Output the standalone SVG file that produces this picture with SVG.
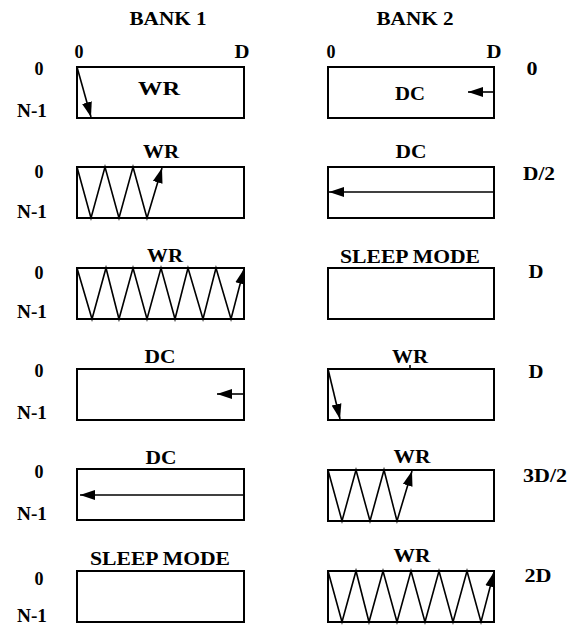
<svg xmlns="http://www.w3.org/2000/svg" width="569" height="626" viewBox="0 0 569 626">
<style>
text{font-family:"Liberation Serif","Times New Roman",serif;font-weight:bold;font-size:19px;fill:#000;text-anchor:middle}
.box{fill:#fff;stroke:#000;stroke-width:2}
.ln{fill:none;stroke:#000;stroke-width:1.6}
</style>
<defs>
<marker id="ah" markerUnits="userSpaceOnUse" markerWidth="15" markerHeight="11" refX="15" refY="5.5" orient="auto">
<path d="M0,0.5 L15,5.5 L0,10.5 z" fill="#000"/>
</marker>
</defs>
<rect width="569" height="626" fill="#fff"/>
<g id="headers">
<text x="168" y="25" textLength="77" lengthAdjust="spacingAndGlyphs">BANK 1</text>
<text x="415" y="25" textLength="77" lengthAdjust="spacingAndGlyphs">BANK 2</text>
<text x="79" y="58" textLength="9" lengthAdjust="spacingAndGlyphs">0</text>
<text x="242" y="58" textLength="15" lengthAdjust="spacingAndGlyphs">D</text>
<text x="331" y="58" textLength="9" lengthAdjust="spacingAndGlyphs">0</text>
<text x="494" y="58" textLength="15" lengthAdjust="spacingAndGlyphs">D</text>
</g>
<g id="row-labels">
<text x="39" y="75" textLength="9" lengthAdjust="spacingAndGlyphs">0</text>
<text x="32" y="117" textLength="30" lengthAdjust="spacingAndGlyphs">N-1</text>
<text x="39" y="178" textLength="9" lengthAdjust="spacingAndGlyphs">0</text>
<text x="32" y="218" textLength="30" lengthAdjust="spacingAndGlyphs">N-1</text>
<text x="39" y="279" textLength="9" lengthAdjust="spacingAndGlyphs">0</text>
<text x="32" y="318" textLength="30" lengthAdjust="spacingAndGlyphs">N-1</text>
<text x="39" y="377" textLength="9" lengthAdjust="spacingAndGlyphs">0</text>
<text x="32" y="419" textLength="30" lengthAdjust="spacingAndGlyphs">N-1</text>
<text x="39" y="478" textLength="9" lengthAdjust="spacingAndGlyphs">0</text>
<text x="32" y="520" textLength="30" lengthAdjust="spacingAndGlyphs">N-1</text>
<text x="39" y="585" textLength="9" lengthAdjust="spacingAndGlyphs">0</text>
<text x="32" y="622" textLength="30" lengthAdjust="spacingAndGlyphs">N-1</text>
</g>
<g id="time-labels">
<text x="532" y="75" textLength="11" lengthAdjust="spacingAndGlyphs">0</text>
<text x="539" y="180" textLength="32" lengthAdjust="spacingAndGlyphs">D/2</text>
<text x="536" y="278" textLength="15" lengthAdjust="spacingAndGlyphs">D</text>
<text x="536" y="378" textLength="15" lengthAdjust="spacingAndGlyphs">D</text>
<text x="545" y="482" textLength="44" lengthAdjust="spacingAndGlyphs">3D/2</text>
<text x="538" y="582" textLength="27" lengthAdjust="spacingAndGlyphs">2D</text>
</g>
<g id="b1-r1"><rect class="box" x="77" y="67" width="167" height="51"/><text x="159" y="95" textLength="42" lengthAdjust="spacingAndGlyphs">WR</text></g>
<g id="b2-r1"><rect class="box" x="328" y="67" width="166" height="51"/><text x="410" y="100" textLength="30" lengthAdjust="spacingAndGlyphs">DC</text></g>
<g id="b1-r2"><rect class="box" x="77" y="167" width="167" height="51"/><text x="161" y="158" textLength="36" lengthAdjust="spacingAndGlyphs">WR</text></g>
<g id="b2-r2"><rect class="box" x="328" y="167" width="166" height="51"/><text x="411" y="158" textLength="31" lengthAdjust="spacingAndGlyphs">DC</text></g>
<g id="b1-r3"><rect class="box" x="77" y="268" width="167" height="51"/><text x="165" y="262" textLength="36" lengthAdjust="spacingAndGlyphs">WR</text></g>
<g id="b2-r3"><rect class="box" x="328" y="268" width="166" height="51"/><text x="410" y="263" textLength="140" lengthAdjust="spacingAndGlyphs">SLEEP MODE</text></g>
<g id="b1-r4"><rect class="box" x="77" y="369" width="167" height="51"/><text x="160" y="363" textLength="31" lengthAdjust="spacingAndGlyphs">DC</text></g>
<g id="b2-r4"><rect class="box" x="328" y="369" width="166" height="51"/><text x="410" y="363" textLength="36" lengthAdjust="spacingAndGlyphs">WR</text><line class="ln" x1="410" y1="365" x2="410" y2="369"/></g>
<g id="b1-r5"><rect class="box" x="77" y="469" width="167" height="51"/><text x="161" y="464" textLength="31" lengthAdjust="spacingAndGlyphs">DC</text></g>
<g id="b2-r5"><rect class="box" x="328" y="470" width="166" height="51"/><text x="412" y="463" textLength="37" lengthAdjust="spacingAndGlyphs">WR</text></g>
<g id="b1-r6"><rect class="box" x="77" y="571" width="167" height="51"/><text x="160" y="565" textLength="140" lengthAdjust="spacingAndGlyphs">SLEEP MODE</text></g>
<g id="b2-r6"><rect class="box" x="328" y="571" width="166" height="51"/><text x="412" y="562" textLength="37" lengthAdjust="spacingAndGlyphs">WR</text></g>
<g id="connectors">
<line class="ln" x1="77" y1="67" x2="91" y2="117" marker-end="url(#ah)"/>
<line class="ln" x1="494" y1="92" x2="468" y2="92" marker-end="url(#ah)"/>
<polyline class="ln" points="77,167 91,218 105,167 119,218 133,167 147,218 162,168" marker-end="url(#ah)"/>
<line class="ln" x1="494" y1="192" x2="329" y2="192" marker-end="url(#ah)"/>
<polyline class="ln" points="77,268 92,319 106,268 119,319 133,268 147,319 161,268 175,319 188,268 203,319 216,268 231,319 244,269" marker-end="url(#ah)"/>
<line class="ln" x1="244" y1="394" x2="217" y2="394" marker-end="url(#ah)"/>
<line class="ln" x1="328" y1="369" x2="340" y2="419" marker-end="url(#ah)"/>
<line class="ln" x1="244" y1="495" x2="80" y2="495" marker-end="url(#ah)"/>
<polyline class="ln" points="328,470 342,521 356,470 370,521 384,470 397,521 412,471" marker-end="url(#ah)"/>
<polyline class="ln" points="328,571 342,622 356,571 369,622 383,571 397,622 411,571 425,622 439,571 453,622 467,571 481,622 494,572" marker-end="url(#ah)"/>
</g>
</svg>
